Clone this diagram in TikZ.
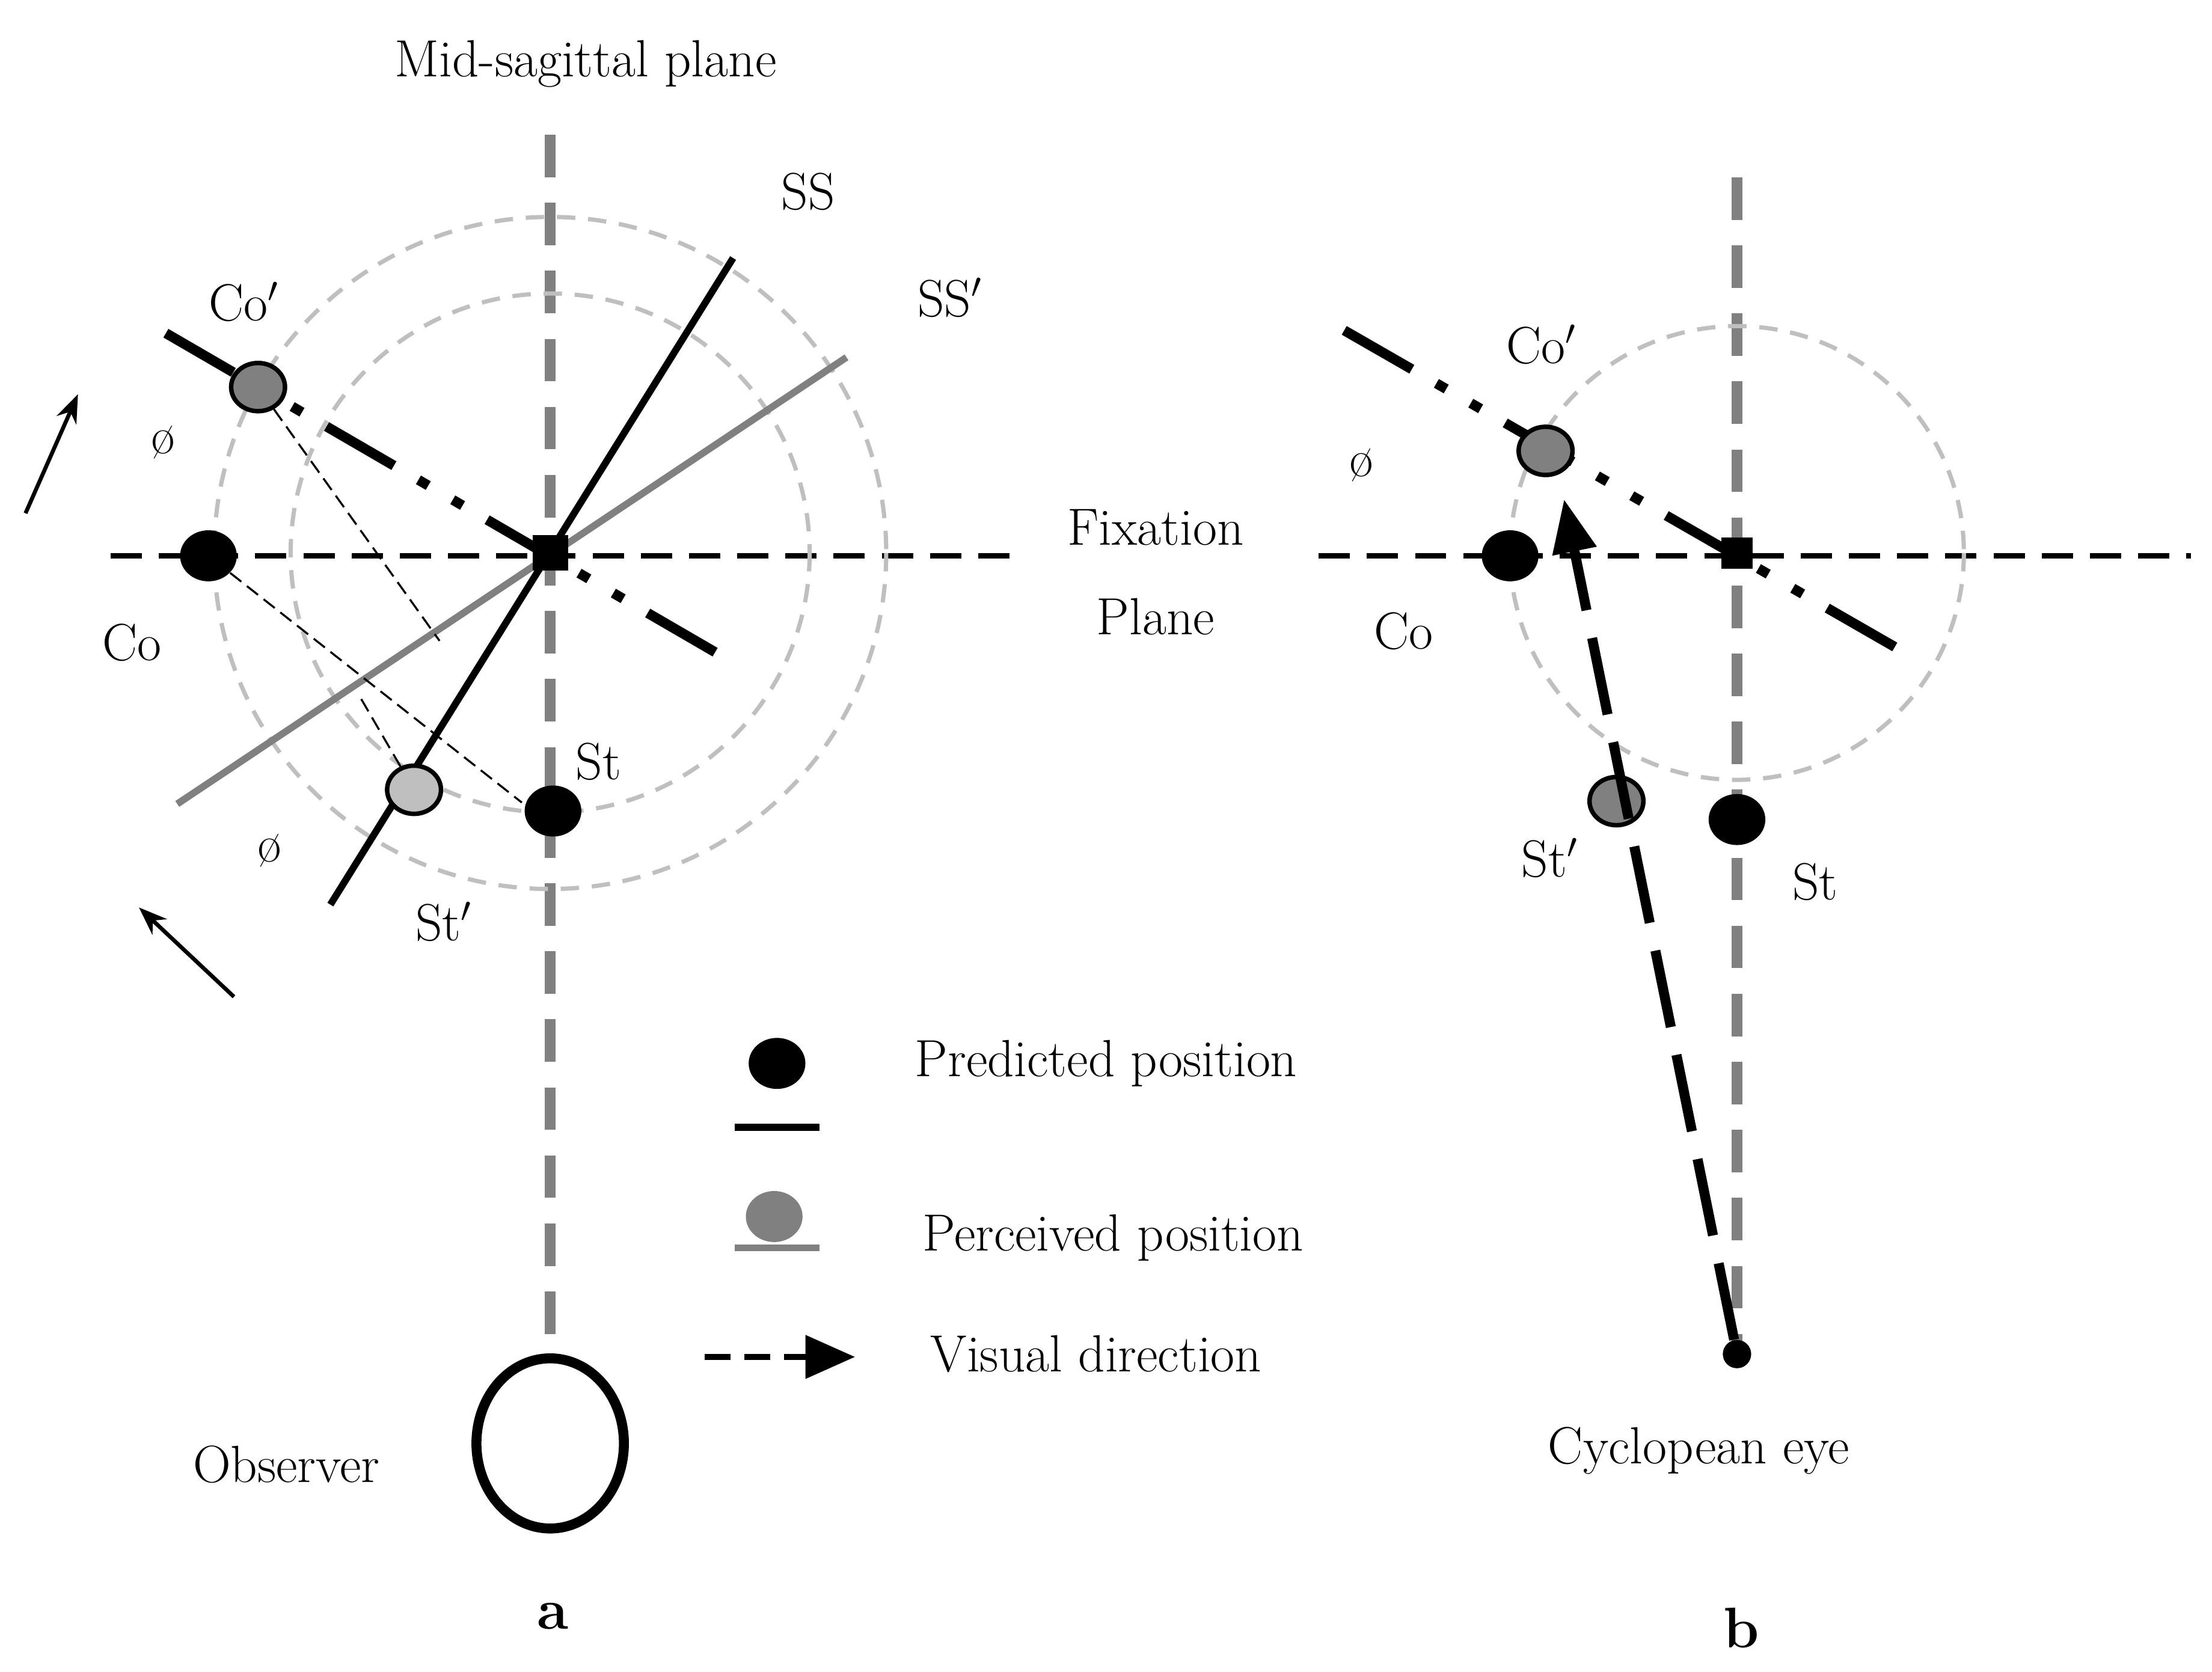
\documentclass[tikz,border=0pt]{standalone}
\usetikzlibrary{arrows.meta,shapes.geometric}
\begin{document}
\begin{tikzpicture}[x=0.02cm,y=-0.02cm,
  every node/.style={font=\fontsize{21}{25}\selectfont},
  vgray/.style={draw=black!50,line width=4.5pt,dash pattern=on 0.6cm off 0.36cm},
  hblack/.style={line width=2.3pt,dash pattern=on 0.44cm off 0.24cm},
  ddot/.style={line width=4pt,dash pattern=on 1.1cm off 0.4cm on 0.16cm off 0.4cm on 0.16cm off 0.4cm},
  circ/.style={draw=black!25,line width=1.7pt,dash pattern=on 0.26cm off 0.18cm},
  thin/.style={line width=0.8pt,dash pattern=on 0.2cm off 0.1cm},
  pdot/.style={ellipse,fill=black,minimum width=0.8cm,minimum height=0.72cm,inner sep=0pt},
  gdot/.style={ellipse,draw=black,line width=1.8pt,fill=black!50,minimum width=0.76cm,minimum height=0.68cm,inner sep=0pt},
  fixsq/.style={fill=black,minimum size=0.5cm,inner sep=0pt}]
\useasboundingbox (0,0) rectangle (1560,1179);
% ---------- panel a ----------
\coordinate (vaT) at (388,95); \coordinate (vaB) at (388,945);
\draw[vgray] (vaT) -- (vaB);
\coordinate (haL) at (78,392); \coordinate (haR) at (715,392);
\draw[hblack] (haL) -- (haR);
\draw[circ] (388,390) circle (237);
\draw[circ] (388,390) circle (183);
\coordinate (ssA) at (517,182); \coordinate (ssB) at (233,638);
\coordinate (sspA) at (597,252); \coordinate (sspB) at (125,567);
\draw[draw=black!50,line width=2.8pt] (sspA) -- (sspB);
\draw[line width=2.8pt] (ssA) -- (ssB);
\coordinate (ddA) at (117,235); \coordinate (ddB) at (513,465);
\draw[ddot] (ddA) -- (ddB);
\coordinate (p1) at (310,452); \coordinate (p2) at (368,566); \coordinate (p3) at (253,490);
\node[gdot] (coP) at (182,273) {};
\node[pdot] (co) at (147,392) {};
\node[pdot] (st) at (390,572) {};
\node[gdot,fill=black!25] (stP) at (292,557) {};
\draw[thin] (coP) -- (p1);
\draw[thin] (co) -- (p2);
\draw[thin] (stP) -- (p3);
\node[fixsq] (fixa) at (388,390) {};
\node (tmid) at (413,45) {Mid-sagittal plane};
\node (lss) at (570,135) {SS};
\node (lssp) at (670,210) {SS$'$};
\node (lcop) at (172,213) {Co$'$};
\node (lco) at (93,453) {Co};
\node (lst) at (422,537) {St};
\node (lstp) at (313,650) {St$'$};
\node (phi1) at (115,312) {ø};
\node (phi2) at (190,600) {ø};
\coordinate (ar1a) at (18,362); \coordinate (ar1b) at (55,278);
\coordinate (ar2a) at (165,703); \coordinate (ar2b) at (98,640);
\draw[line width=1.6pt,-{Stealth[length=0.4cm,width=0.3cm]}] (ar1a) -- (ar1b);
\draw[line width=1.6pt,-{Stealth[length=0.4cm,width=0.3cm]}] (ar2a) -- (ar2b);
\node (fix1) at (815,372) {Fixation};
\node (fix2) at (815,435) {Plane};
% legend
\node[pdot] (lgd1) at (548,750) {};
\coordinate (lgl1a) at (518,795); \coordinate (lgl1b) at (578,795);
\draw[line width=2.8pt] (lgl1a) -- (lgl1b);
\node (lgt1) at (780,750) {Predicted position};
\node[ellipse,fill=black!50,minimum width=0.8cm,minimum height=0.72cm,inner sep=0pt] (lgd2) at (546,858) {};
\coordinate (lgl2a) at (518,880); \coordinate (lgl2b) at (578,880);
\draw[draw=black!50,line width=2.8pt] (lgl2a) -- (lgl2b);
\node (lgt2) at (785,873) {Perceived position};
\coordinate (lga) at (497,957); \coordinate (lgb) at (603,957);
\draw[line width=2.3pt,dash pattern=on 0.36cm off 0.2cm,-{Triangle[length=0.7cm,width=0.6cm]}] (lga) -- (lgb);
\node (lgt3) at (773,955) {Visual direction};
\draw[line width=4pt] (388,1018) ellipse (52 and 60);
\node (obs) at (202,1033) {Observer};
\node[font=\fontsize{23}{27}\selectfont\bfseries] (la) at (390,1140) {a};
% ---------- panel b ----------
\coordinate (vbT) at (1225,125); \coordinate (vbB) at (1225,955);
\draw[vgray] (vbT) -- (vbB);
\coordinate (hbL) at (930,392); \coordinate (hbR) at (1545,392);
\draw[hblack] (hbL) -- (hbR);
\draw[circ] (1225,390) circle (160);
\coordinate (dbA) at (948,233); \coordinate (dbB) at (1348,463);
\draw[ddot] (dbA) -- (dbB);
\node[gdot] (coPb) at (1090,318) {};
\node[pdot] (cob) at (1065,392) {};
\node[pdot] (stb) at (1225,578) {};
\node[gdot] (stPb) at (1140,565) {};
\node[fixsq,minimum size=0.44cm] (fixb) at (1225,390) {};
\node[circle,fill=black,minimum size=0.4cm,inner sep=0pt] (cyc) at (1225,955) {};
\coordinate (vdT) at (1103,352);
\draw[line width=4pt,dash pattern=on 1.1cm off 0.4cm,-{Triangle[length=0.75cm,width=0.6cm]}] (cyc) -- (vdT);
\node (lcopb) at (1087,243) {Co$'$};
\node (lcob) at (990,445) {Co};
\node (phib) at (960,328) {ø};
\node (lstpb) at (1093,605) {St$'$};
\node (lstb) at (1280,622) {St};
\node (cyct) at (1198,1023) {Cyclopean eye};
\node[font=\fontsize{23}{27}\selectfont\bfseries] (lb) at (1228,1148) {b};
\end{tikzpicture}
\end{document}
